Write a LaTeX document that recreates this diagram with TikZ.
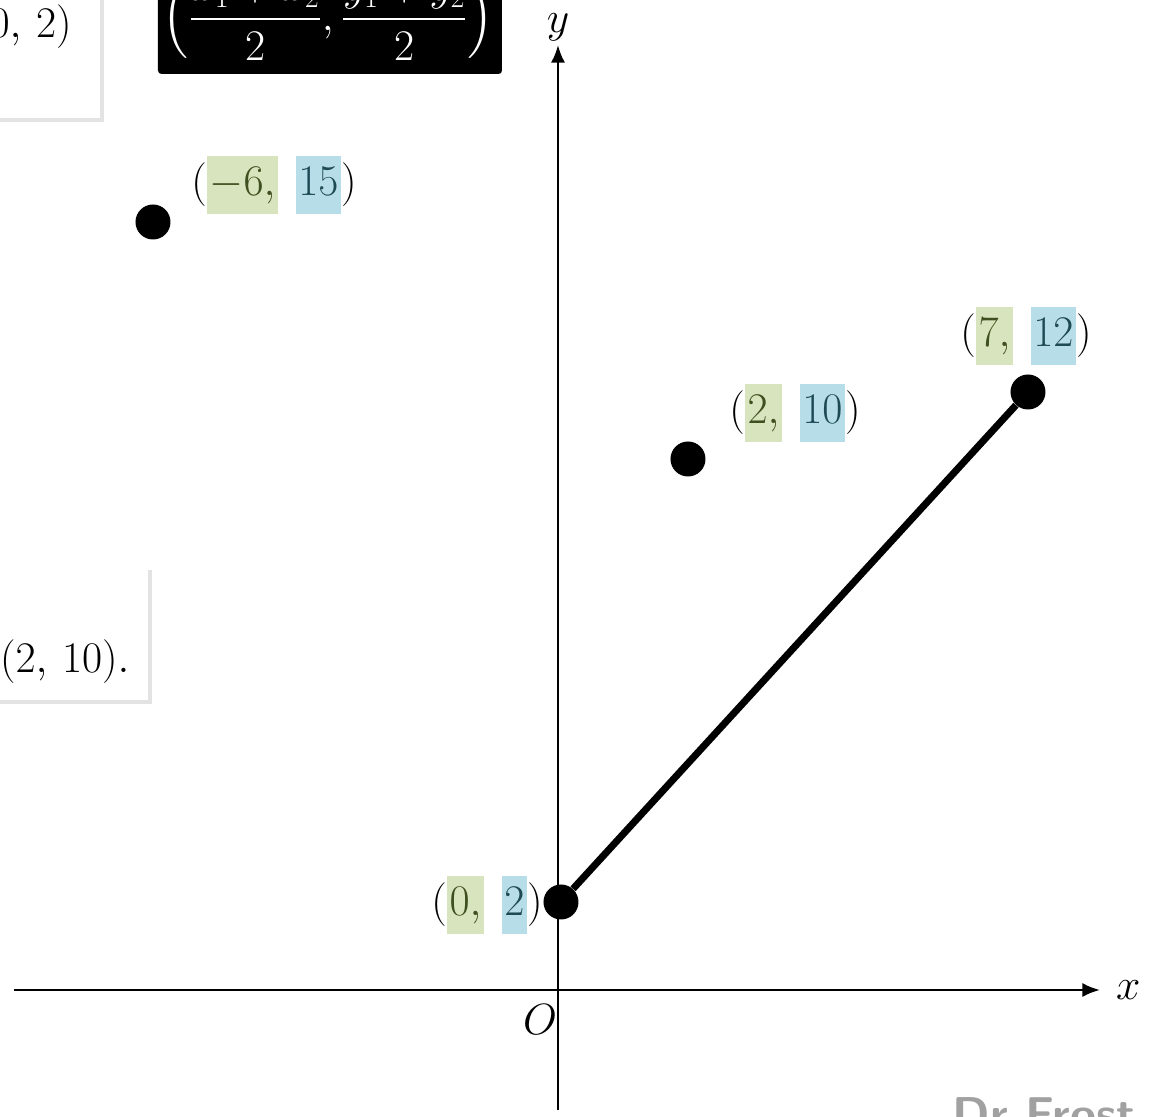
\documentclass[tikz,border=0pt]{standalone}
\usepackage{amsmath}
\usetikzlibrary{arrows.meta,shadows}
\definecolor{hlgreen}{HTML}{D7E4BD}
\definecolor{hlblue}{HTML}{B7DEE8}
\definecolor{txtgreen}{HTML}{3F4F1F}
\definecolor{txtblue}{HTML}{1E4A55}
\newcommand{\hlx}[1]{\colorbox{hlgreen}{\rule[-0.32em]{0pt}{1.1em}$\color{txtgreen}#1$}}
\newcommand{\hly}[1]{\colorbox{hlblue}{\rule[-0.32em]{0pt}{1.1em}$\color{txtblue}#1$}}
\setlength{\fboxsep}{1.5pt}
\begin{document}
\begin{tikzpicture}[>={Latex[length=10pt,width=8pt]},
    ptdot/.style={circle,fill=black,minimum size=0.7cm,inner sep=0pt},
    coord/.style={font=\fontsize{27}{32}\selectfont,inner sep=0pt},
    card/.style={fill=white,drop shadow={shadow xshift=2.5pt,shadow yshift=-2.5pt,opacity=0.22}}]
\useasboundingbox (-11.16,-2.54) rectangle (11.92,19.8);
\clip (-11.16,-2.54) rectangle (11.92,19.8);
% boxes cut off at the edge
\fill[card] (-11.6,17.44) rectangle (-9.16,20.6);
\node[coord,anchor=east] (pa) at (-9.72,19.26) {$(0,\,2)$};
\fill[card] (-11.6,5.8) rectangle (-8.2,8.48);
\node[coord,anchor=east] (pm) at (-8.56,6.56) {$(2,\,10).$};
\fill[black,rounded corners=2pt] (-8.0,18.32) rectangle (-1.12,20.6);
\node[text=white,inner sep=0pt,font=\fontsize{23}{27}\selectfont] (mid) at (-4.6,19.44)
    {$\displaystyle\left(\frac{x_1+x_2}{2},\frac{y_1+y_2}{2}\right)$};
% axes
    \draw[->,line width=1.4pt] (-10.88,0)--(10.84,0)node[coord,right=0.3cm](xl){$x$};
    \draw[->,line width=1.4pt] (0,-2.4)--(0,18.9)node[coord,above=0.05cm](yl){$y$};
\node[coord] (o) at (-0.36,-0.6){$O$};
% points
\node[ptdot] (A) at (0.06,1.76) {};
\node[ptdot] (B) at (9.4,11.96) {};
\node[ptdot] (M) at (2.6,10.62) {};
\node[ptdot] (C) at (-8.1,15.36) {};
\draw[line width=4pt] (A)--(B);
\node[coord] (lA) at (-1.42,1.7) {$(\hlx{0,}\hspace{10pt}\hly{2})$};
\node[coord] (lB) at (9.36,13.08) {$(\hlx{7,}\hspace{10pt}\hly{12})$};
\node[coord] (lM) at (4.74,11.54) {$(\hlx{2,}\hspace{10pt}\hly{10})$};
\node[coord] (lC) at (-5.68,16.1) {$(\hlx{-6,}\hspace{10pt}\hly{15})$};
\node[anchor=north,inner sep=0pt,text=black!37,font=\sffamily\bfseries\fontsize{27}{32}\selectfont] (wm) at (9.72,-2.14) {Dr Frost};
\end{tikzpicture}
\end{document}
